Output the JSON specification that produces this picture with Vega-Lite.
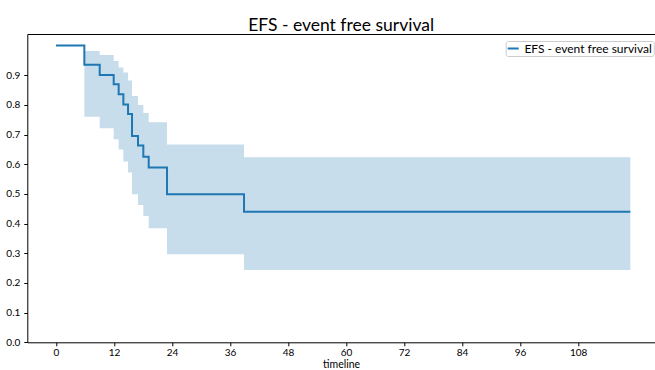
{
  "$schema": "https://vega.github.io/schema/vega-lite/v6.json",
  "width": 627.7,
  "height": 308.3,
  "autosize": {"type": "none"},
  "padding": {"left": 27.3, "top": 34, "right": 0, "bottom": 27.7},
  "background": "white",
  "title": {"text": "EFS - event free survival", "font": "Lato", "fontSize": 17.5, "fontWeight": "normal", "color": "black", "baseline": "bottom", "offset": -18, "anchor": "middle"},
  "config": {
    "view": {"stroke": null},
    "axis": {"labelFont": "Lato", "titleFont": "Lato", "labelFontSize": 10, "titleFontSize": 10.5, "titleFontWeight": "normal", "labelColor": "black", "titleColor": "black", "domainColor": "black", "tickColor": "black", "tickSize": 3.5, "domainWidth": 1, "tickWidth": 1, "grid": false, "labelOverlap": false},
    "legend": {"labelFont": "Lato"}
  },
  "data": {"values": [
    {"t": 0, "S": 1, "lo": 1, "hi": 1, "series": "EFS - event free survival"},
    {"t": 5.86, "S": 0.935, "lo": 0.760, "hi": 0.982, "series": "EFS - event free survival"},
    {"t": 9.04, "S": 0.901, "lo": 0.721, "hi": 0.968, "series": "EFS - event free survival"},
    {"t": 11.93, "S": 0.870, "lo": 0.684, "hi": 0.948, "series": "EFS - event free survival"},
    {"t": 12.96, "S": 0.836, "lo": 0.650, "hi": 0.926, "series": "EFS - event free survival"},
    {"t": 13.93, "S": 0.801, "lo": 0.609, "hi": 0.909, "series": "EFS - event free survival"},
    {"t": 14.9, "S": 0.769, "lo": 0.572, "hi": 0.882, "series": "EFS - event free survival"},
    {"t": 15.72, "S": 0.695, "lo": 0.499, "hi": 0.830, "series": "EFS - event free survival"},
    {"t": 16.96, "S": 0.663, "lo": 0.463, "hi": 0.800, "series": "EFS - event free survival"},
    {"t": 18.06, "S": 0.625, "lo": 0.426, "hi": 0.773, "series": "EFS - event free survival"},
    {"t": 19.17, "S": 0.589, "lo": 0.384, "hi": 0.742, "series": "EFS - event free survival"},
    {"t": 22.96, "S": 0.499, "lo": 0.297, "hi": 0.667, "series": "EFS - event free survival"},
    {"t": 38.89, "S": 0.440, "lo": 0.244, "hi": 0.624, "series": "EFS - event free survival"},
    {"t": 118.8, "S": 0.440, "lo": 0.244, "hi": 0.624, "series": "EFS - event free survival"}
  ]},
  "resolve": {"axis": {"x": "independent"}},
  "layer": [
    {
      "mark": {"type": "area", "interpolate": "step-after", "color": "#1f77b4", "opacity": 0.25},
      "encoding": {
        "x": {"field": "t", "type": "quantitative", "scale": {"domain": [-5.94, 123.9], "nice": false, "zero": false},
          "axis": {"orient": "top", "labels": false, "ticks": false, "title": null}},
        "y": {"field": "lo", "type": "quantitative", "scale": {"domain": [0, 1.039], "nice": false},
          "axis": {"values": [0, 0.1, 0.2, 0.3, 0.4, 0.5, 0.6, 0.7, 0.8, 0.9], "format": ".1f", "labelPadding": 4, "title": null}},
        "y2": {"field": "hi"}
      }
    },
    {
      "mark": {"type": "line", "interpolate": "step-after", "strokeWidth": 2},
      "encoding": {
        "x": {"field": "t", "type": "quantitative",
          "axis": {"orient": "bottom", "values": [0, 12, 24, 36, 48, 60, 72, 84, 96, 108], "labelPadding": 1.5, "title": "timeline", "titlePadding": 2}},
        "y": {"field": "S", "type": "quantitative",
          "axis": {"values": [0, 0.1, 0.2, 0.3, 0.4, 0.5, 0.6, 0.7, 0.8, 0.9], "format": ".1f", "labelPadding": 4, "title": null}},
        "color": {"field": "series", "type": "nominal", "scale": {"range": ["#1f77b4"]},
          "legend": {"title": null, "orient": "none", "legendX": 478.4, "legendY": 7, "padding": 1, "strokeColor": "#cccccc", "fillColor": "white", "cornerRadius": 2, "labelFontSize": 12, "labelColor": "black", "symbolType": "stroke", "symbolStrokeWidth": 2, "symbolSize": 121, "labelOffset": 4.7}}
      }
    }
  ]
}
